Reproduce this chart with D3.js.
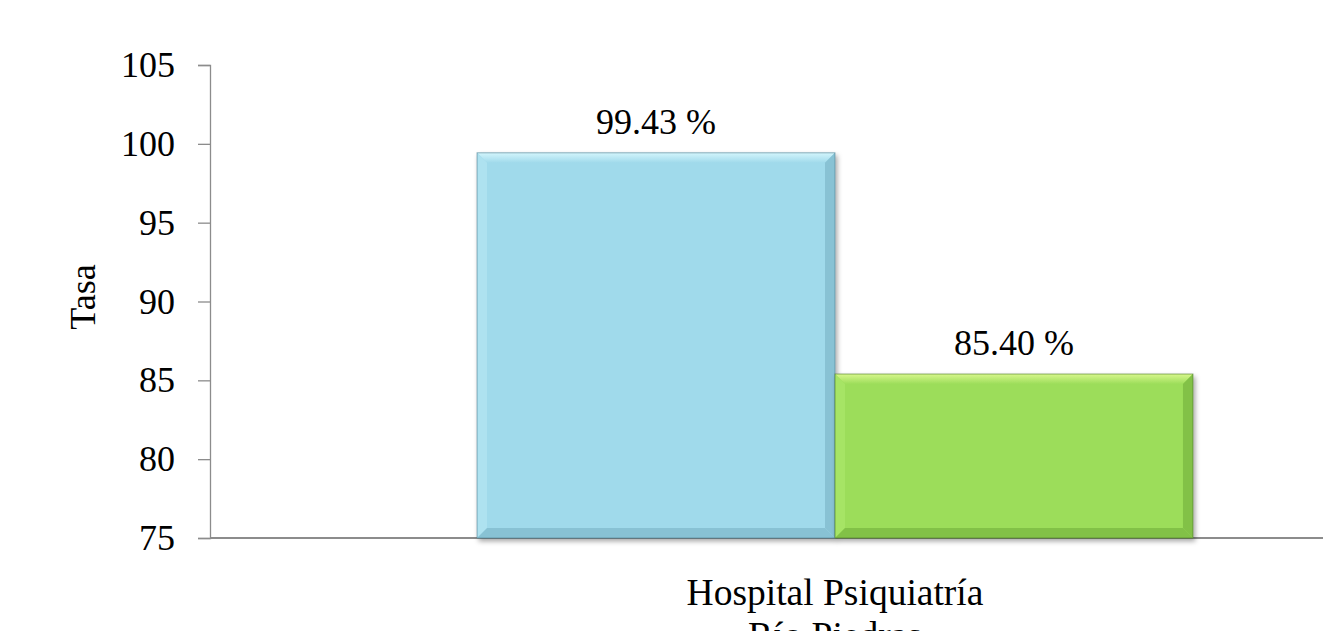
<!DOCTYPE html>
<html lang="en">
<head>
<meta charset="utf-8">
<title>Tasa</title>
<script src="https://d3js.org/d3.v7.min.js"></script>
<style>
body { margin: 0; background: #fff; }
text { font-family: "Liberation Serif", "Times New Roman", serif; fill: #000; }
</style>
</head>
<body>
<div id="chart"></div>
<script>
// data
var categories = ["Hospital Psiquiatría Río Piedras"];
var seriesNames = ["Serie 1", "Serie 2"];
var seriesValues = [99.43, 85.40];
var seriesLabels = ["99.43 %", "85.40 %"];
var yTicks = [75, 80, 85, 90, 95, 100, 105];
var catLines = [["Hospital Psiquiatría", "Río Piedras"]];

var w = 1323, h = 631;
var plotLeft = 210, plotBottom = 538, plotTop = 65;

var colors = [
  {base: "#a0daeb", light: "#d3f5fc", side: "#aee2f0", dark: "#88c2d4", edge: "#4f7e90"},
  {base: "#9cdd5a", light: "#d8f78c", side: "#a6e465", dark: "#82c147", edge: "#4a7a26"}
];

var svg = d3.select("#chart").append("svg")
  .attr("width", w).attr("height", h);

var defs = svg.append("defs");
defs.append("filter").attr("id", "shadow")
  .attr("x", "-5%").attr("y", "-5%").attr("width", "115%").attr("height", "115%")
  .append("feDropShadow")
  .attr("dx", 2).attr("dy", 3).attr("stdDeviation", 2.5)
  .attr("flood-color", "#000").attr("flood-opacity", 0.35);

// soft gradient for the top bevel
colors.forEach(function(c, i) {
  var lg = defs.append("linearGradient").attr("id", "topbev" + i)
    .attr("x1", 0).attr("y1", 0).attr("x2", 0).attr("y2", 1);
  lg.append("stop").attr("offset", "0%").attr("stop-color", c.light);
  lg.append("stop").attr("offset", "100%").attr("stop-color", c.base);
});

var yScale = d3.scaleLinear().domain([75, 105]).range([plotBottom, plotTop]);

var xScale = d3.scaleBand().domain(categories).range([plotLeft, 1460]).paddingInner(0).paddingOuter(0.373);
var xSub = d3.scaleBand().domain(seriesNames).range([0, xScale.bandwidth()]);

// y axis
var yAxis = d3.axisLeft(yScale).tickValues(yTicks).tickSize(12).tickPadding(23);
var gy = svg.append("g").attr("transform", "translate(" + plotLeft + ",0)").call(yAxis);
gy.select(".domain").attr("stroke", "#8c8c8c").attr("stroke-width", 1.3);
gy.selectAll(".tick line").attr("stroke", "#8c8c8c").attr("stroke-width", 1.3);
gy.selectAll(".tick text").style("font-size", "36px").style("font-family", "Liberation Serif, serif");

// x axis line
svg.append("line")
  .attr("x1", plotLeft).attr("x2", 1460)
  .attr("y1", plotBottom).attr("y2", plotBottom)
  .attr("stroke", "#8c8c8c").attr("stroke-width", 2);

// bars with bevel
var bev = 10;
var barData = seriesValues.map(function(v, i) {
  return {name: seriesNames[i], value: v, label: seriesLabels[i], cat: categories[0], c: colors[i], idx: i};
});

var bars = svg.selectAll("g.bar").data(barData).enter().append("g").attr("class", "bar")
  .attr("filter", "url(#shadow)");

bars.each(function(d) {
  var g = d3.select(this);
  var x0 = xScale(d.cat) + xSub(d.name), x1 = x0 + xSub.bandwidth();
  var y0 = yScale(d.value), y1 = yScale(75);
  g.append("rect").attr("x", x0).attr("y", y0).attr("width", x1 - x0).attr("height", y1 - y0)
    .attr("fill", d.c.base);
  // top bevel
  g.append("polygon").attr("points", [[x0, y0], [x1, y0], [x1 - bev, y0 + bev], [x0 + bev, y0 + bev]].join(" "))
    .attr("fill", "url(#topbev" + d.idx + ")");
  // left bevel
  g.append("polygon").attr("points", [[x0, y0], [x0 + bev, y0 + bev], [x0 + bev, y1 - bev], [x0, y1]].join(" "))
    .attr("fill", d.c.side);
  // right bevel
  g.append("polygon").attr("points", [[x1, y0], [x1, y1], [x1 - bev, y1 - bev], [x1 - bev, y0 + bev]].join(" "))
    .attr("fill", d.c.dark);
  // bottom bevel
  g.append("polygon").attr("points", [[x0, y1], [x1, y1], [x1 - bev, y1 - bev], [x0 + bev, y1 - bev]].join(" "))
    .attr("fill", d.c.dark);
  g.append("rect").attr("x", x0).attr("y", y0).attr("width", x1 - x0).attr("height", y1 - y0)
    .attr("fill", "none").attr("stroke", d.c.edge).attr("stroke-width", 1).attr("stroke-opacity", 0.6);
});

// value labels
svg.selectAll("text.val").data(barData).enter().append("text").attr("class", "val")
  .attr("x", function(d) { return xScale(d.cat) + xSub(d.name) + xSub.bandwidth() / 2; })
  .attr("y", function(d) { return yScale(d.value) - 19; })
  .attr("text-anchor", "middle")
  .style("font-size", "36px")
  .text(function(d) { return d.label; });

// category label
var catX = xScale(categories[0]) + xScale.bandwidth() / 2;
var cat = svg.append("text")
  .attr("x", catX)
  .attr("y", 605)
  .attr("text-anchor", "middle")
  .style("font-size", "37.5px");
catLines[0].forEach(function(t, i) {
  cat.append("tspan").attr("x", catX)
    .attr("dy", i === 0 ? 0 : 43).text(t);
});

// y title
svg.append("text")
  .attr("transform", "translate(95,297) rotate(-90)")
  .attr("text-anchor", "middle")
  .style("font-size", "36px")
  .text("Tasa");
</script>
</body>
</html>
